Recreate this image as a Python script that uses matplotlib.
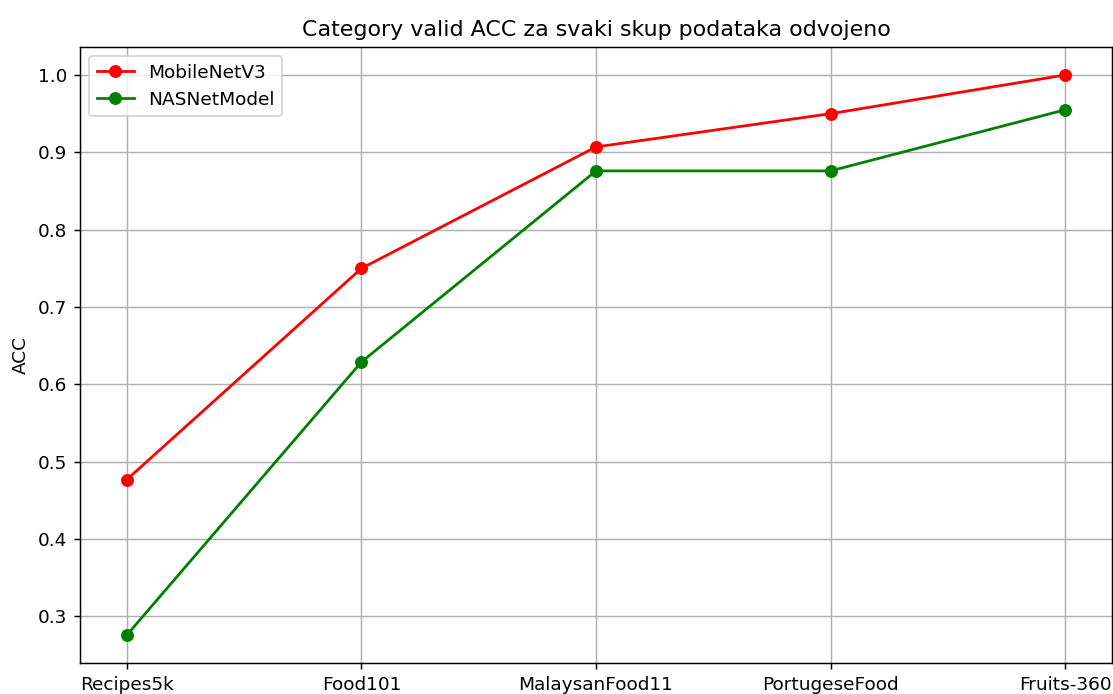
import matplotlib
matplotlib.use("Agg")
import matplotlib.pyplot as plt

categories = ["Recipes5k", "Food101", "MalaysanFood11", "PortugeseFood", "Fruits-360"]
mobilenet = [0.477, 0.750, 0.907, 0.950, 1.000]
nasnet = [0.276, 0.629, 0.876, 0.876, 0.955]

DPI = 133
fig = plt.figure(figsize=(1113 / DPI, 694 / DPI), dpi=DPI)
ax = fig.add_axes([80 / 1113, 31 / 694, 1032 / 1113, 616 / 694])

ax.plot(categories, mobilenet, marker="o", color="red", label="MobileNetV3")
ax.plot(categories, nasnet, marker="o", color="green", label="NASNetModel")
ax.set_title("Category valid ACC za svaki skup podataka odvojeno", fontsize=12)
ax.set_ylabel("ACC")
ax.grid(True)
ax.legend(loc="upper left")

fig.savefig("out.png", dpi=DPI)
